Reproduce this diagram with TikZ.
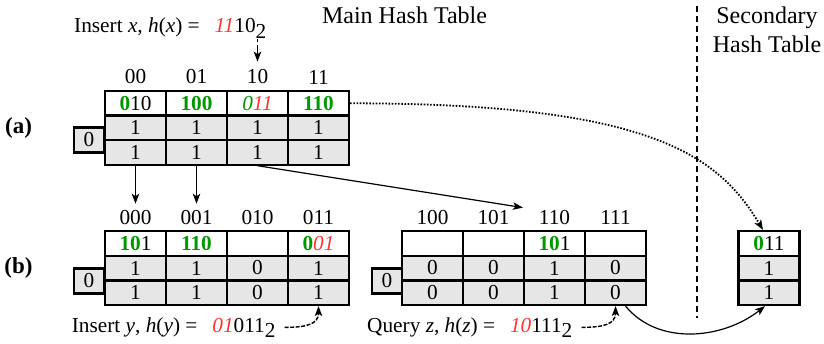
\documentclass[tikz,border=0pt]{standalone}
\usepackage{fontspec}
\setmainfont{Liberation Serif}
\usetikzlibrary{arrows.meta}
\definecolor{cellgray}{RGB}{230,230,230}
\definecolor{hgreen}{RGB}{0,153,0}
\definecolor{hred}{RGB}{255,51,51}
\newcommand\gb[1]{\textcolor{hgreen}{\textbf{#1}}}
\newcommand\gi[1]{\textcolor{hgreen}{\textit{#1}}}
\newcommand\ri[1]{\textcolor{hred}{\textit{#1}}}
\newcommand\lowsub[1]{\raisebox{-5.5pt}{#1}}

\begin{document}
\begin{tikzpicture}[x=1pt,y=-1pt,
  every node/.style={inner sep=0pt, font=\fontsize{21.3}{25}\selectfont},
  cellbase/.style={draw=black, line width=2.2pt, minimum width=61pt, minimum height=24.6pt},
  keycell/.style={cellbase, fill=white},
  bitcell/.style={cellbase, fill=cellgray},
  levelbox/.style={draw=black, line width=2.2pt, fill=cellgray, minimum width=30pt, minimum height=25pt},
  caption/.style={font=\fontsize{24}{29}\selectfont, align=center},
  tag/.style={font=\bfseries\fontsize{23}{28}\selectfont},
  tip/.style={-{Stealth[length=10pt,width=7.5pt,inset=2.5pt]}},
  ptr/.style={tip, line width=1.2pt},
  dashptr/.style={tip, line width=1.4pt, dash pattern=on 4pt off 1.5pt},
  dotptr/.style={tip, line width=1.8pt, dash pattern=on 1.6pt off 1.6pt},
]
\useasboundingbox (0,0) rectangle (824,343);

% headings
\node[caption] (main-title) at (404.5,15) {Main Hash Table};
\node[caption] (sec-title) at (767,29.3) {Secondary\\Hash Table};
\draw[line width=1.5pt, dash pattern=on 6pt off 4pt] (697,6) -- (697,318);

\node[tag] (tag-a) at (18.5,128) {(a)};
\node[tag] (tag-b) at (18.5,268) {(b)};

% ---- (a) main table, two bucket bits ----
\foreach \lbl [count=\i from 0] in {00,01,10,11}
  \node (a-l\i) at (135.5+61*\i,77) {\lbl};
\foreach \txt [count=\i from 0] in {{\gb{0}10},{\gb{100}},{\gi{0}\ri{11}},{\gb{110}}}
  \node[keycell] (a-k\i) at (135.5+61*\i,103.3) {\txt};
\foreach \i in {0,...,3} {
  \node[bitcell] (a-p\i) at (135.5+61*\i,127.8) {1};
  \node[bitcell] (a-q\i) at (135.5+61*\i,152.3) {1};
}
\node[levelbox] (a-lvl) at (89,140) {0};

% ---- (b) main table after split, left half ----
\foreach \lbl [count=\i from 0] in {000,001,010,011}
  \node (b-l\i) at (135.5+61*\i,217.5) {\lbl};
\foreach \txt [count=\i from 0] in {{\gb{10}1},{\gb{110}},{},{\gb{0}\ri{01}}}
  \node[keycell] (b-k\i) at (135.5+61*\i,243.3) {\txt};
\foreach \bit [count=\i from 0] in {1,1,0,1} {
  \node[bitcell] (b-p\i) at (135.5+61*\i,268) {\bit};
  \node[bitcell] (b-q\i) at (135.5+61*\i,292.7) {\bit};
}
\node[levelbox] (b-lvl) at (89,281) {0};

% ---- (b) right half ----
\foreach \lbl [count=\i from 0] in {100,101,110,111}
  \node (r-l\i) at (432.5+61*\i,217.5) {\lbl};
\foreach \txt [count=\i from 0] in {{},{},{\gb{10}1},{}}
  \node[keycell] (r-k\i) at (432.5+61*\i,243.3) {\txt};
\foreach \bit [count=\i from 0] in {0,0,1,0} {
  \node[bitcell] (r-p\i) at (432.5+61*\i,268) {\bit};
  \node[bitcell] (r-q\i) at (432.5+61*\i,292.7) {\bit};
}
\node[levelbox] (r-lvl) at (387,281) {0};

% ---- secondary table ----
\node[keycell] (s-k) at (769,243.3) {\gb{0}11};
\node[bitcell] (s-p) at (769,268) {1};
\node[bitcell] (s-q) at (769,292.7) {1};

% ---- operations ----
\node[anchor=base west] (ins-x) at (74,32.5)
  {Insert \textit{x}, \textit{h}(\textit{x}) =\hspace{0.7em}\ri{11}10\lowsub{2}};
\node[anchor=base west] (ins-y) at (71.7,332)
  {Insert \textit{y}, \textit{h}(\textit{y}) =\hspace{0.7em}\ri{01}011\lowsub{2}};
\node[anchor=base west] (qry-z) at (367,332)
  {Query \textit{z}, \textit{h}(\textit{z}) =\hspace{0.7em}\ri{10}111\lowsub{2}};

\coordinate (x-src) at (257.5,39);
\draw[tip, line width=1.4pt, dash pattern=on 3pt off 2.5pt on 30pt, shorten >=8pt] (x-src) -- (a-l2.north);

% buckets moved by the split
\draw[ptr, shorten >=6.4pt] (a-q0.south) -- (b-l0.north);
\draw[ptr, shorten >=6.4pt] (a-q1.south) -- (b-l1.north);
\draw[ptr, shorten >=16pt] (a-q2.south) -- (r-l2.north west);

% overflow into the secondary table
\draw[dotptr] (a-k3.east) .. controls +(300,0) and +(-45,-75) .. ([xshift=-6pt]s-k.north);

\draw[dashptr] ([xshift=9pt]ins-y.east) .. controls +(22,0) and +(0,18) .. (b-q3.south);
\draw[dashptr] ([xshift=9pt]qry-z.east) .. controls +(22,0) and +(0,18) .. (r-q3.south);
\draw[ptr] ([xshift=10pt]r-q3.south) .. controls +(33,40) and +(-42,33) .. ([xshift=-4pt]s-q.south);
\end{tikzpicture}
\end{document}
